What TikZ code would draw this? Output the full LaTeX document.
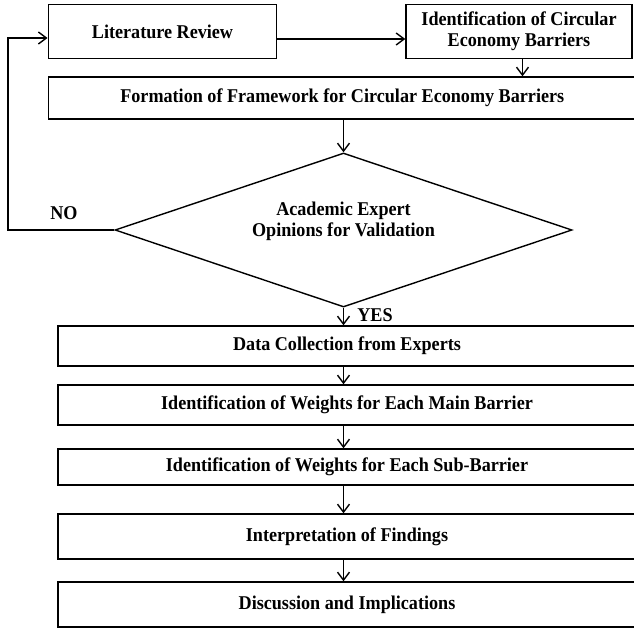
\documentclass[tikz,border=0pt]{standalone}
\usepackage{fontspec}
\setmainfont[FakeStretch=0.93]{Liberation Serif}
\usetikzlibrary{arrows.meta,shapes.geometric,calc}
\begin{document}
\begin{tikzpicture}[x=1pt,y=-1pt,
  every node/.style={font=\fontsize{19.5}{21}\selectfont\bfseries, inner sep=0pt, align=center},
  box/.style={draw, line width=1.4pt, rectangle},
  arr/.style={line width=1.4pt, -{Straight Barb[length=8pt,width=12pt,line width=1.4pt]}},
  ln/.style={line width=1.4pt}]
\useasboundingbox (0,0) rectangle (634,629);
\node[box, minimum width=228.5pt, minimum height=54pt] (lit) at (162.5,31.5) {Literature Review};
\node[box, minimum width=226pt, minimum height=54pt] (ident) at (519,31.5) {Identification of Circular\\Economy Barriers};
\node[box, minimum width=587.5pt, minimum height=42pt] (frame) at (342.25,98) {Formation of Framework for Circular Economy Barriers};
\node[draw, diamond, line width=1.4pt, minimum width=457pt, minimum height=154pt] (dec) at (343.5,230) {};
\node (dect) at (343.5,221) {Academic Expert\\Opinions for Validation};
\node[box, minimum width=578pt, minimum height=40pt] (data) at (347,346) {Data Collection from Experts};
\node[box, minimum width=578pt, minimum height=40pt] (wmain) at (347,405) {Identification of Weights for Each Main Barrier};
\node[box, minimum width=578pt, minimum height=36pt] (wsub) at (347,467) {Identification of Weights for Each Sub-Barrier};
\node[box, minimum width=578pt, minimum height=45pt] (interp) at (347,536.5) {Interpretation of Findings};
\node[box, minimum width=578pt, minimum height=45pt] (disc) at (347,604.5) {Discussion and Implications};
\node (no) at (64,213) {NO};
\node (yes) at (375,315) {YES};
\coordinate (corner) at (8,230);

\draw[arr] ([yshift=-7.5pt]lit.east) -- ([yshift=-7.5pt]ident.west);
\draw[arr] ([xshift=3.5pt]ident.south) -- ([xshift=3.5pt]ident.south |- frame.north);
\draw[arr] (dec.north |- frame.south) -- (dec.north);
\draw[arr] (dec.south) -- (dec.south |- data.north);
\draw[arr] (dec.south |- data.south) -- (dec.south |- wmain.north);
\draw[arr] (dec.south |- wmain.south) -- (dec.south |- wsub.north);
\draw[arr] (dec.south |- wsub.south) -- (dec.south |- interp.north);
\draw[arr] (dec.south |- interp.south) -- (dec.south |- disc.north);
\draw[arr] (dec.west) -- (corner) |- ([yshift=-6.5pt]lit.west);
\end{tikzpicture}
\end{document}
